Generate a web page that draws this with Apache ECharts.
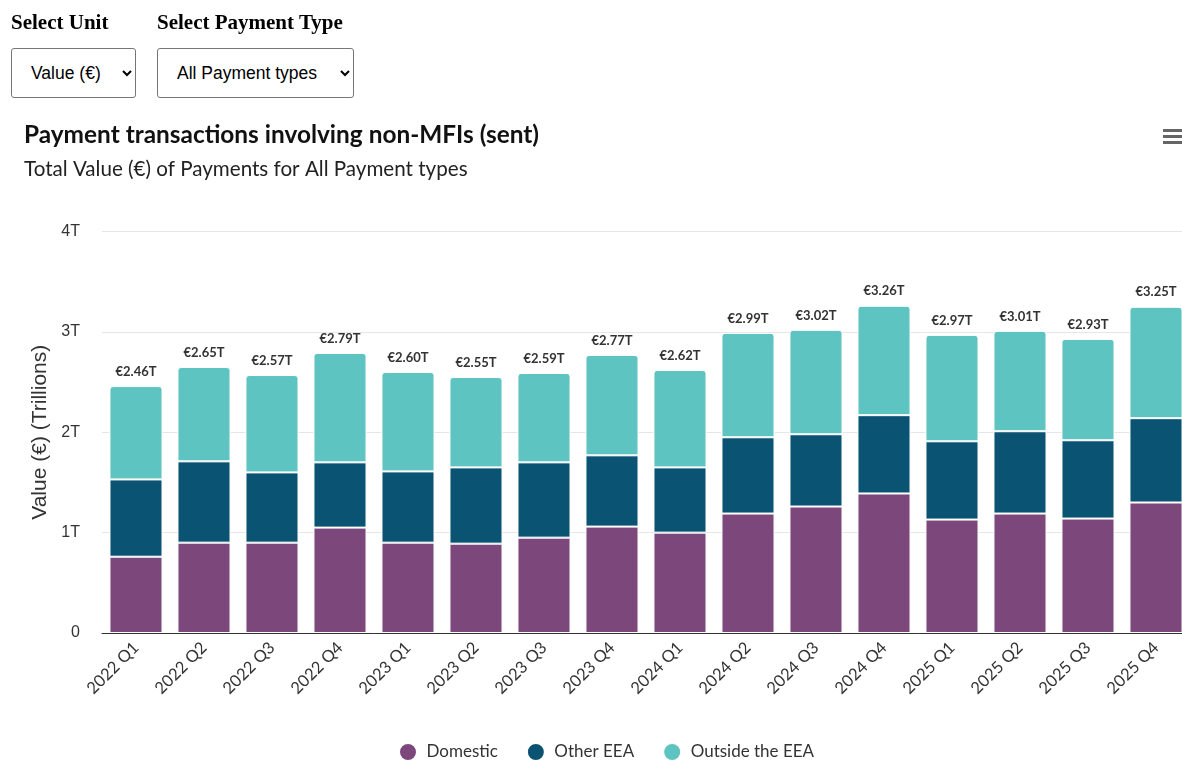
<!DOCTYPE html>
<html>
<head>
<meta charset="utf-8">
<script src="https://cdn.jsdelivr.net/npm/echarts@6/dist/echarts.min.js"></script>
<style>
  html, body { margin: 0; padding: 0; background: #fff; width: 1182px; height: 760px; overflow: hidden; }
  #chart { position: absolute; left: 0; top: 0; width: 1200px; height: 760px; }
  .lbl { position: absolute; top: 10px; font-family: "Liberation Serif", "Times New Roman", serif; font-weight: bold; font-size: 21px; color: #000; }
  .sel { position: absolute; top: 48px; height: 50px; box-sizing: border-box; border: 1px solid #767676; border-radius: 3px; background: #fff;
         font-family: "Liberation Sans", Arial, sans-serif; font-size: 17.5px; color: #000; padding: 0 10px 0 15px; }
  #menu { position: absolute; left: 1163px; top: 129px; width: 19px; }
  #menu div { height: 3px; background: #666; margin-bottom: 3px; }
</style>
</head>
<body>
<div id="chart"></div>
<div class="lbl" style="left:11px">Select Unit</div>
<div class="lbl" style="left:157px">Select Payment Type</div>
<select class="sel" style="left:11px;width:125px"><option>Value (€)</option></select>
<select class="sel" style="left:157px;width:197px"><option>All Payment types</option></select>
<div id="menu"><div></div><div></div><div></div></div>
<script>
// Values in trillions of euro
const categories = ["2022 Q1","2022 Q2","2022 Q3","2022 Q4","2023 Q1","2023 Q2","2023 Q3","2023 Q4",
                    "2024 Q1","2024 Q2","2024 Q3","2024 Q4","2025 Q1","2025 Q2","2025 Q3","2025 Q4"];
const domestic   = [0.76, 0.90, 0.90, 1.05, 0.90, 0.89, 0.95, 1.06, 1.00, 1.19, 1.26, 1.39, 1.13, 1.19, 1.14, 1.30];
const otherEEA   = [0.77, 0.81, 0.70, 0.65, 0.71, 0.76, 0.75, 0.71, 0.65, 0.76, 0.72, 0.78, 0.78, 0.82, 0.78, 0.84];
const outsideEEA = [0.93, 0.94, 0.97, 1.09, 0.99, 0.90, 0.89, 1.00, 0.97, 1.04, 1.04, 1.09, 1.06, 1.00, 1.01, 1.11];
const yTicks = [0, 1, 2, 3, 4];
const seriesNames = ["Domestic", "Other EEA", "Outside the EEA"];
const colors = ["#7c487c", "#0b5372", "#5ec4c1"];

const chart = echarts.init(document.getElementById('chart'), null, { renderer: 'canvas' });
const total = i => domestic[i] + otherEEA[i] + outsideEEA[i];

chart.setOption({
  animation: false,
  color: colors,
  title: {
    text: "Payment transactions involving non-MFIs (sent)",
    subtext: "Total Value (€) of Payments for All Payment types",
    left: 24, top: 121, padding: 0,
    itemGap: 8,
    textStyle: { fontFamily: "Lato", fontWeight: "bold", fontSize: 24.4, color: "#111", lineHeight: 28 },
    subtextStyle: { fontFamily: "Lato", fontSize: 20.6, color: "#222", lineHeight: 24 }
  },
  grid: { left: 102, top: 231.5, right: 10, bottom: 127, containLabel: false },
  legend: {
    left: 398, top: 742, padding: 0,
    icon: "circle", itemWidth: 27, itemHeight: 18, itemGap: 28,
    textStyle: { fontFamily: "Lato", fontSize: 17, color: "#333" },
    data: seriesNames
  },
  xAxis: {
    type: "category",
    data: categories,
    axisLine: { lineStyle: { color: "#333", width: 1 } },
    axisTick: { alignWithLabel: true, length: 10, lineStyle: { color: "#333" } },
    axisLabel: { rotate: 45, fontFamily: "Lato", fontSize: 16.5, color: "#333", margin: 12, interval: 0 }
  },
  yAxis: {
    type: "value",
    min: yTicks[0], max: yTicks[yTicks.length - 1], interval: 1,
    name: "Value (€) (Trillions)",
    nameLocation: "middle", nameGap: 48,
    nameTextStyle: { fontFamily: "Liberation Sans", fontSize: 21, color: "#333" },
    axisLine: { show: false },
    axisTick: { show: false },
    splitLine: { lineStyle: { color: "#e6e6e6" } },
    axisLabel: { fontFamily: "Liberation Sans", fontSize: 16, color: "#333", margin: 22,
                 formatter: v => v === 0 ? "0" : v + "T" }
  },
  series: [
    { name: seriesNames[0], type: "bar", stack: "t", data: domestic, barCategoryGap: "22%",
      itemStyle: { borderColor: "#fff", borderWidth: 1 } },
    { name: seriesNames[1], type: "bar", stack: "t", data: otherEEA,
      itemStyle: { borderColor: "#fff", borderWidth: 1 } },
    { name: seriesNames[2], type: "bar", stack: "t", data: outsideEEA,
      itemStyle: { borderColor: "#fff", borderWidth: 1, borderRadius: [3, 3, 0, 0] },
      label: { show: true, position: "top", distance: 8, fontFamily: "Lato", fontWeight: "bold", fontSize: 13, color: "#333",
               formatter: p => "€" + total(p.dataIndex).toFixed(2) + "T" } }
  ]
});
</script>
</body>
</html>
